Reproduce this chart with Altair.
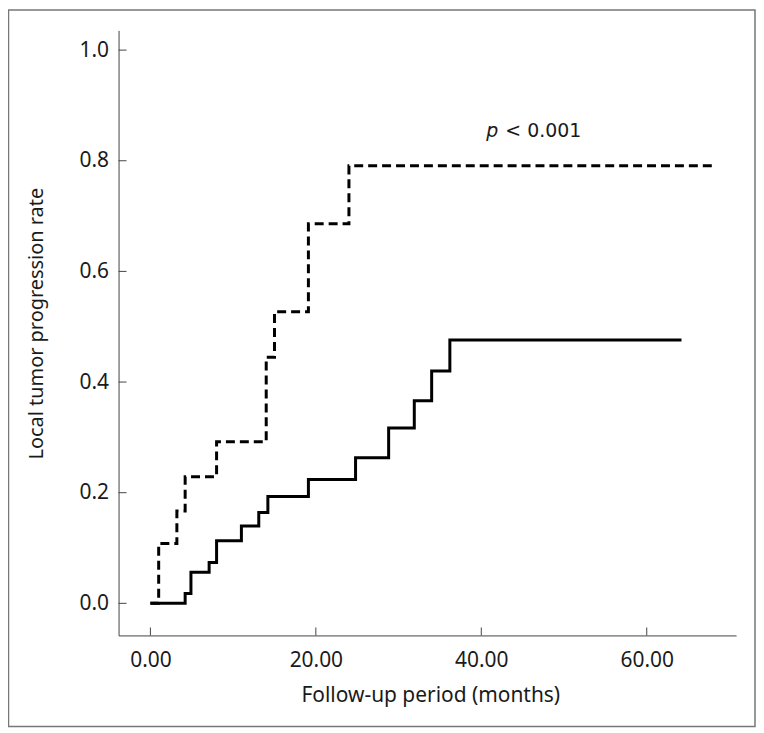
import altair as alt
import pandas as pd

# ---- data ----
solid_t = [0, 4.2, 4.9, 7.1, 8.0, 11.0, 13.1, 14.2, 19.1, 24.8, 28.8, 31.9, 34.0, 36.2, 64.2]
solid_r = [0, 0.018, 0.056, 0.074, 0.113, 0.140, 0.164, 0.193, 0.224, 0.263, 0.317, 0.366, 0.420, 0.476, 0.476]
dashed_t = [0, 1.0, 3.2, 4.2, 8.0, 14.0, 15.0, 19.1, 24.0, 68.1]
dashed_r = [0, 0.108, 0.167, 0.229, 0.292, 0.445, 0.527, 0.686, 0.791, 0.791]

x_ticks = [0, 20, 40, 60]
y_ticks = [0.0, 0.2, 0.4, 0.6, 0.8, 1.0]

p_label = ["p"]
p_rest = ["< 0.001"]
p_x = [40.6]
p_rest_x = [42.9]
p_y = [0.843]

W, H = 620, 607.5
FONT = "Noto Sans"
AX = "#444444"
TXT = "#1a1a1a"

solid_df = pd.DataFrame({"t": solid_t, "r": solid_r})
dashed_df = pd.DataFrame({"t": dashed_t, "r": dashed_r})
xt_df = pd.DataFrame({"t": x_ticks})
yt_df = pd.DataFrame({"r": y_ticks})
p_df = pd.DataFrame({"t": p_x, "r": p_y, "label": p_label})
p2_df = pd.DataFrame({"t": p_rest_x, "r": p_y, "label": p_rest})

xscale = alt.Scale(domain=[-3.85, 70.8], nice=False, zero=False)
yscale = alt.Scale(domain=[-0.058, 1.0357], nice=False, zero=False)

x_enc = alt.X(
    "t:Q", scale=xscale,
    axis=alt.Axis(
        values=x_ticks, format=".2f", ticks=False, grid=False,
        domainColor=AX, domainWidth=1,
        labelFont=FONT, labelFontSize=21, labelColor=TXT, labelPadding=14,
        title="Follow-up period (months)", titleFont=FONT, titleFontSize=21,
        titleFontWeight="normal", titleColor=TXT,
        titleX=313, titleY=66, titleAlign="center", titleBaseline="alphabetic",
    ),
)
y_enc = alt.Y(
    "r:Q", scale=yscale,
    axis=alt.Axis(
        values=y_ticks, format=".1f", ticks=False, grid=False,
        domainColor=AX, domainWidth=1,
        labelFont=FONT, labelFontSize=21, labelColor=TXT, labelPadding=10,
        title="Local tumor progression rate", titleFont=FONT, titleFontSize=20,
        titleFontWeight="normal", titleColor=TXT,
        titleX=-76, titleY=294, titleAngle=270, titleAlign="center",
        titleBaseline="alphabetic",
    ),
)

solid = alt.Chart(solid_df).mark_line(
    interpolate="step-after", color="black", strokeWidth=3
).encode(x=x_enc, y=y_enc)

dashed = alt.Chart(dashed_df).mark_line(
    interpolate="step-after", color="black", strokeWidth=3, strokeDash=[9, 5]
).encode(x=x_enc, y=y_enc)

xticks = alt.Chart(xt_df).mark_rule(color=AX, strokeWidth=1).encode(
    x=alt.X("t:Q", scale=xscale), y=alt.value(H - 8), y2=alt.value(H)
)
yticks = alt.Chart(yt_df).mark_rule(color=AX, strokeWidth=1).encode(
    y=alt.Y("r:Q", scale=yscale), x=alt.value(0), x2=alt.value(8)
)

ptext = alt.Chart(p_df).mark_text(
    align="left", baseline="alphabetic", font="DejaVu Sans", fontSize=19,
    fontStyle="italic", color=TXT
).encode(x=alt.X("t:Q", scale=xscale), y=alt.Y("r:Q", scale=yscale), text="label:N")

ptext2 = alt.Chart(p2_df).mark_text(
    align="left", baseline="alphabetic", font="DejaVu Sans", fontSize=19, color=TXT
).encode(x=alt.X("t:Q", scale=xscale), y=alt.Y("r:Q", scale=yscale), text="label:N")

frame = alt.Chart(pd.DataFrame({"a": [0]})).mark_rect(
    fill=None, fillOpacity=0, stroke="#777777", strokeWidth=1.5
).encode(
    x=alt.value(-110.5), x2=alt.value(639), y=alt.value(-20.5), y2=alt.value(699)
)

chart = alt.layer(frame, xticks, yticks, dashed, solid, ptext, ptext2).properties(
    width=W, height=H,
    autosize=alt.AutoSizeParams(type="none"),
    padding={"left": 111, "top": 21, "right": 20, "bottom": 93},
    background="white",
).configure_view(stroke=None)

chart.save("out.html", embed_options={"renderer": "svg", "actions": False})
